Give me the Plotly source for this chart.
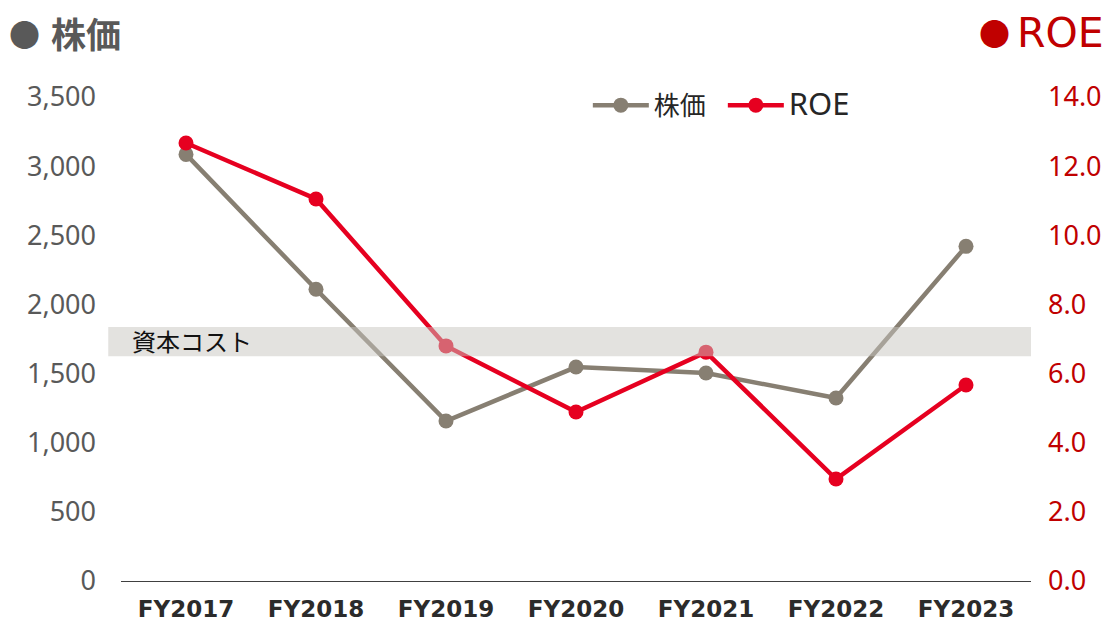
import plotly.graph_objects as go

years = ["FY2017", "FY2018", "FY2019", "FY2020", "FY2021", "FY2022", "FY2023"]
stock_price = [3085, 2110, 1157, 1547, 1504, 1323, 2420]
roe = [12.67, 11.05, 6.80, 4.89, 6.62, 2.95, 5.67]
cost_of_capital = (6.5, 7.35)  # ROE band, %

GRAY = "#877f72"
RED = "#e60020"
FONT = "Noto Sans, Noto Sans CJK JP, sans-serif"
WIDE = "DejaVu Sans, Noto Sans CJK JP, sans-serif"

fig = go.Figure()
fig.add_trace(go.Scatter(x=years, y=stock_price, name="株価", mode="lines+markers",
                         line=dict(color=GRAY, width=4.5), marker=dict(size=15, color=GRAY)))
fig.add_trace(go.Scatter(x=years, y=roe, name="<span style='font-size:31px'>ROE</span>",
                         mode="lines+markers", yaxis="y2",
                         line=dict(color=RED, width=4.5), marker=dict(size=15, color=RED)))

# cost-of-capital band sits on top of the lines, half transparent
fig.add_shape(type="rect", xref="paper", yref="y2", x0=-0.014, x1=1.0,
              y0=cost_of_capital[0], y1=cost_of_capital[1],
              fillcolor="rgba(200,198,192,0.5)", line_width=0, layer="above")
fig.add_annotation(xref="paper", yref="y2", x=0.01, y=sum(cost_of_capital) / 2,
                   text="資本コスト", showarrow=False, xanchor="left",
                   font=dict(size=24, color="#111111", family=FONT))

# panel headings
fig.add_annotation(xref="paper", yref="paper", x=-0.1055, y=1.131, xanchor="center", yanchor="middle",
                   text="●", showarrow=False, font=dict(size=31, color="#595959", family=FONT))
fig.add_annotation(xref="paper", yref="paper", x=-0.079, y=1.181, xanchor="left", yanchor="top",
                   text="<b>株価</b>", showarrow=False, font=dict(size=35, color="#595959", family=FONT))
fig.add_annotation(xref="paper", yref="paper", x=0.9604, y=1.132, xanchor="center", yanchor="middle",
                   text="●", showarrow=False, font=dict(size=31, color="#c00000", family=FONT))
fig.add_annotation(xref="paper", yref="paper", x=1.082, y=1.132, xanchor="right", yanchor="middle",
                   text="ROE", showarrow=False, font=dict(size=41, color="#c00000", family=WIDE))

fig.update_layout(
    width=1110, height=621,
    margin=dict(l=113, r=87, t=89, b=48),
    plot_bgcolor="white", paper_bgcolor="white",
    font=dict(family=FONT),
    showlegend=True,
    legend=dict(orientation="h", x=0.513, y=0.983, xanchor="left", yanchor="middle",
                font=dict(size=26, color="#262626"), bgcolor="rgba(0,0,0,0)",
                itemwidth=56, entrywidth=64),
    xaxis=dict(range=[-0.5, 6.5], showgrid=False, showline=True, linecolor="#404040",
               linewidth=1, ticks="", automargin=False,
               tickfont=dict(size=23, color="#2b2b2b", family=WIDE, weight="bold"),
               ticklabelstandoff=7),
    yaxis=dict(range=[0, 3500], tickvals=list(range(0, 3501, 500)), tickformat=",",
               showgrid=False, zeroline=False, automargin=False,
               tickfont=dict(size=27, color="#595959"), ticklabelstandoff=24),
    yaxis2=dict(range=[0, 14], tickvals=list(range(0, 15, 2)), tickformat=".1f",
                overlaying="y", side="right", showgrid=False, zeroline=False, automargin=False,
                tickfont=dict(size=27, color="#c00000"), ticklabelstandoff=16),
)

fig.write_html("out.html")
